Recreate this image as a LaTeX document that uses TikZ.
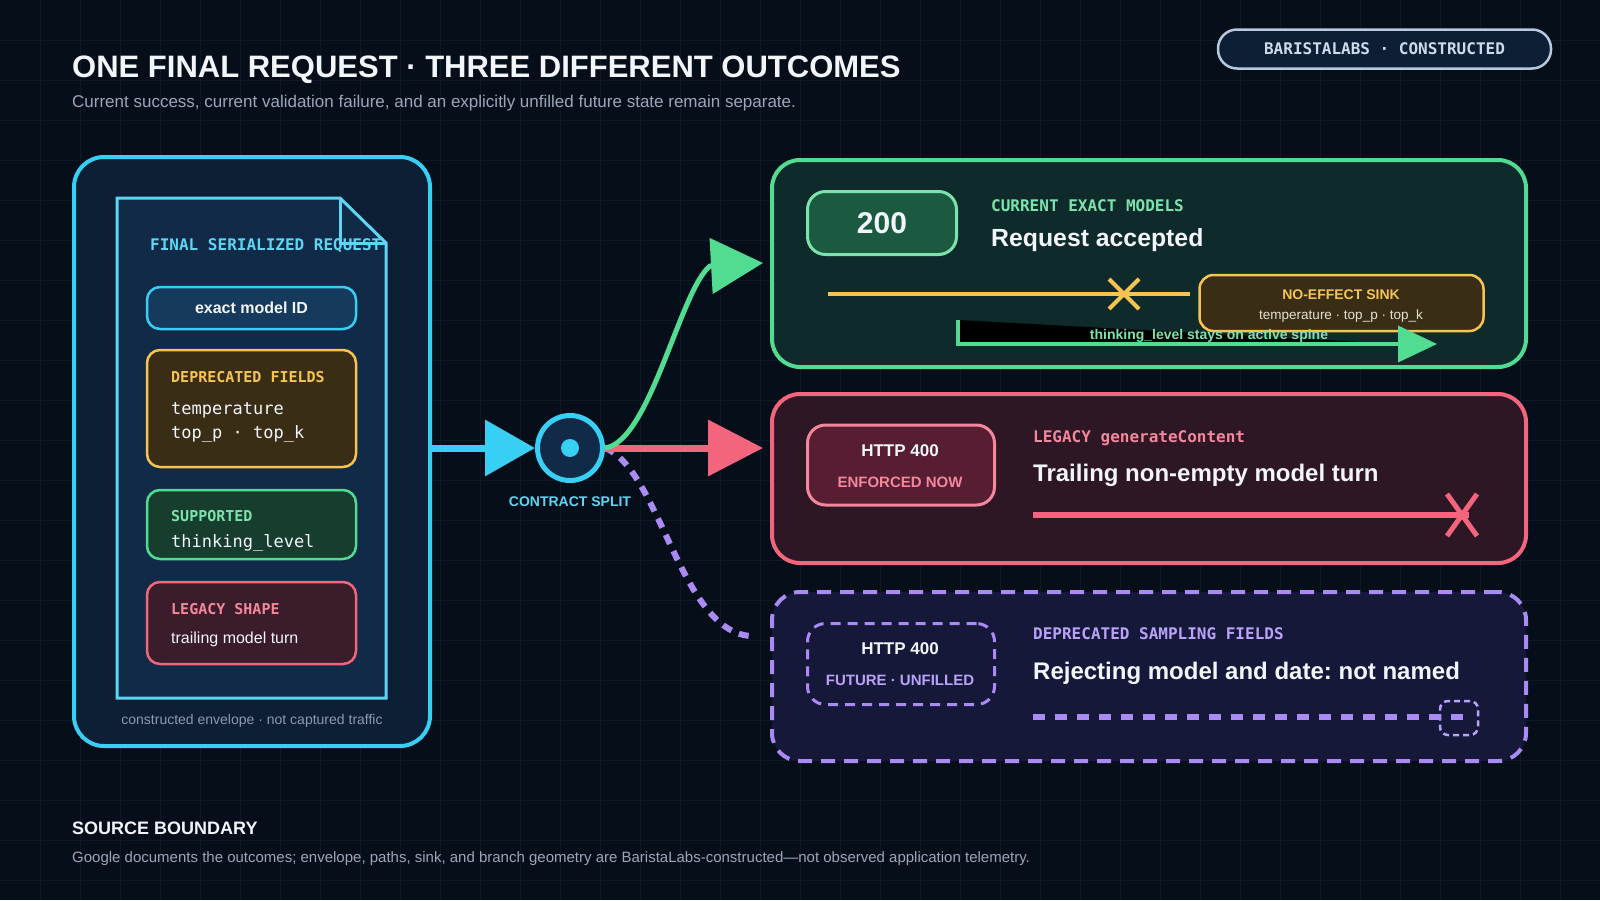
\documentclass[tikz,border=0pt]{standalone}
\usepackage{fontspec}
\setmainfont{Liberation Sans}
\setmonofont{DejaVu Sans Mono}
\usetikzlibrary{arrows.meta,positioning}

\definecolor{bgc}{HTML}{060E1A}
\definecolor{gridc}{HTML}{0D1928}
\definecolor{envf}{HTML}{0D1F35}
\definecolor{docf}{HTML}{102A48}
\definecolor{cyanc}{HTML}{38CFF5}
\definecolor{cyanl}{HTML}{5ED5F3}
\definecolor{idf}{HTML}{163A5E}
\definecolor{ylwc}{HTML}{F5C451}
\definecolor{ylwf}{HTML}{3A2D16}
\definecolor{grnc}{HTML}{52DC91}
\definecolor{grnl}{HTML}{7DE3AC}
\definecolor{grnf}{HTML}{163D2E}
\definecolor{grnp}{HTML}{0F2A2B}
\definecolor{grns}{HTML}{1B5A40}
\definecolor{redc}{HTML}{F2657C}
\definecolor{redl}{HTML}{F3879B}
\definecolor{redf}{HTML}{3A1C2B}
\definecolor{redp}{HTML}{2D1725}
\definecolor{reds}{HTML}{561D33}
\definecolor{purc}{HTML}{A98BF3}
\definecolor{purl}{HTML}{B9A2F7}
\definecolor{purp}{HTML}{16183A}
\definecolor{txtc}{HTML}{F2F5FA}
\definecolor{subc}{HTML}{9AA7BA}
\definecolor{footc}{HTML}{8C9AAE}
\definecolor{badgec}{HTML}{B8C9DD}
\definecolor{badget}{HTML}{CDDBEB}
\definecolor{sinkt}{HTML}{E6E0D0}

\newcommand{\fsz}[1]{\fontsize{#1}{#1}\selectfont}
\frenchspacing

\tikzset{
  panel/.style={
    draw,
    rounded corners=28pt,
    line width=4pt,
    inner sep=0pt
  },
  field/.style={
    draw,
    rounded corners=13pt,
    line width=2.5pt,
    minimum width=209pt,
    inner sep=0pt
  },
  status/.style={
    draw,
    rounded corners=18pt,
    line width=3pt,
    inner sep=0pt
  },
  monolab/.style={
    anchor=base west,
    inner sep=0pt,
    font=\ttfamily\bfseries\fsz{15}
  },
  panellab/.style={
    anchor=base west,
    inner sep=0pt,
    font=\ttfamily\bfseries\fsz{16}
  },
  monoval/.style={
    anchor=base west,
    inner sep=0pt,
    font=\ttfamily\fsz{17},
    text=txtc
  },
  headline/.style={
    anchor=base west,
    inner sep=0pt,
    font=\bfseries\fsz{24},
    text=txtc
  },
  plain/.style={
    anchor=base west,
    inner sep=0pt
  },
  spine/.style={
    line width=7pt
  }
}

\begin{document}
\begin{tikzpicture}[x=1pt,y=-1pt]
        \fill[bgc] (0,0) rectangle (1600,900);
        \useasboundingbox (0,0) rectangle (1600,900);
        \foreach \gx in {40,80,...,1560} \draw[gridc, line width=1pt] (\gx,0) -- (\gx,900);
        \foreach \gy in {40,80,...,880} \draw[gridc, line width=1pt] (0,\gy) -- (1600,\gy);

        % heading
        \node[plain, font=\bfseries\fsz{31}, text=txtc] (title) at (72,77.5) {ONE FINAL REQUEST · THREE DIFFERENT OUTCOMES};
        \node[plain, font=\fsz{17}, text=subc] (subtitle) at (72,107) {Current success, current validation failure, and an explicitly unfilled future state remain separate.};
        \node[draw=badgec, fill=envf, line width=2.5pt, rounded corners=19pt, minimum width=333pt, minimum height=39pt, font=\ttfamily\bfseries\fsz{16}, text=badget] (badge) at (1384.5,49) {BARISTALABS · CONSTRUCTED};

        % envelope
        \node[panel, rounded corners=30pt, draw=cyanc, fill=envf, minimum width=356pt, minimum height=589pt] (env) at (252,451.5) {};
        \draw[line width=3pt, cyanl, fill=docf] (117,198) -- (340,198) -- (386,243) -- (386,698) -- (117,698) -- cycle;
        \draw[line width=3pt, cyanl] (340,198) -- (340,243) -- (386,243);
        \node[monolab, text=cyanl, font=\ttfamily\bfseries\fsz{16}] (doctitle) at (150,250) {FINAL SERIALIZED REQUEST};

        \node[field, draw=cyanc, fill=idf, minimum height=42pt, font=\bfseries\fsz{16}, text=txtc] (modelid) at (251.5,308) {exact model ID};
        \node[field, draw=ylwc, fill=ylwf, minimum height=117pt] (depr) at (251.5,408.5) {};
        \node[monolab, text=ylwc] (deprlab) at (171,382) {DEPRECATED FIELDS};
        \node[monoval] (deprA) at (171,414) {temperature};
        \node[monoval] (deprB) at (171,438) {top\_p · top\_k};
        \node[field, draw=grnc, fill=grnf, minimum height=69pt] (supp) at (251.5,524.5) {};
        \node[monolab, text=grnl] (supplab) at (171,521) {SUPPORTED};
        \node[monoval] (suppA) at (171,547) {thinking\_level};
        \node[field, draw=redc, fill=redf, minimum height=82pt] (legacy) at (251.5,623) {};
        \node[monolab, text=redl] (legacylab) at (171,614) {LEGACY SHAPE};
        \node[plain, font=\fsz{16}, text=txtc] (legacyA) at (171,643) {trailing model turn};
        \node[anchor=base, inner sep=0pt, font=\fsz{14}, text=footc] (envnote) at (252,724) {constructed envelope · not captured traffic};

        % outcome panels
        \node[panel, draw=grnc, fill=grnp, minimum width=754pt, minimum height=207pt] (ok) at (1149,263.5) {};
        \node[panel, draw=redc, fill=redp, minimum width=754pt, minimum height=169pt] (fail) at (1149,478.5) {};
        \node[panel, draw=purc, fill=purp, dash pattern=on 14pt off 9pt, minimum width=754pt, minimum height=169pt] (futr) at (1149,676.5) {};

        % split
        \node[circle, draw=cyanc, fill=docf, line width=5pt, minimum size=65pt, inner sep=0pt] (split) at (570,448) {};
        \node[circle, fill=cyanc, minimum size=18pt, inner sep=0pt] (splitdot) at (split.center) {};
        \node[anchor=base, inner sep=0pt, font=\bfseries\fsz{14}, text=cyanl] (splitlab) at (570,506) {CONTRACT SPLIT};
        \coordinate (gtip) at (763,263);
        \coordinate (pend) at (750,636);
        \draw[spine, cyanc, -{Triangle[length=50pt,width=55pt]}] (env.east |- split) -- (split.west);
        \draw[line width=6pt, purc, dash pattern=on 10pt off 8pt] (split.east) .. controls (660,470) and (680,630) .. (pend);
        \draw[spine, redc, -{Triangle[length=55pt,width=55pt]}] (split.east) -- ([xshift=-7pt]fail.west |- split.east);
        \draw[line width=5pt, grnc, -{Triangle[length=52pt,width=55pt]}] (split.east) .. controls (650,442) and (680,290) .. (710,266) -- (gtip);

        % accepted
        \node[status, draw=grnl, fill=grns, minimum width=149pt, minimum height=63pt, font=\bfseries\fsz{30}, text=txtc] (code) at (882,223) {200};
        \node[panellab, text=grnl] (oklab) at (991,211) {CURRENT EXACT MODELS};
        \node[headline, font=\bfseries\fsz{24.8}] (okhead) at (991,246) {Request accepted};
        \node[status, rounded corners=14pt, line width=2.5pt, draw=ylwc, fill=ylwf, minimum width=284pt, minimum height=56pt] (sink) at (1341.5,303) {};
        \node[anchor=base, inner sep=0pt, font=\bfseries\fsz{14}, text=ylwc] (sinklab) at (1341,299) {NO-EFFECT SINK};
        \node[anchor=base, inner sep=0pt, font=\fsz{13.5}, text=sinkt] (sinkA) at (1341,319) {temperature · top\_p · top\_k};
        \coordinate (ystart) at (828,294);
        \coordinate (ycross) at (1124,294);
        \draw[line width=4.5pt, ylwc] (ystart) -- ([xshift=-8pt]sink.west |- ystart);
        \draw[line width=4pt, ylwc] ([shift={(-15,-15)}]ycross) -- ([shift={(15,15)}]ycross);
        \draw[line width=4pt, ylwc] ([shift={(-15,15)}]ycross) -- ([shift={(15,-15)}]ycross);
        \coordinate (tstart) at (958,320);
        \coordinate (ttip) at (1437,344);
        \draw[line width=4pt, grnc, fill=black, -{Triangle[length=39pt,width=36pt]}] (tstart) -- (tstart |- ttip) -- (ttip);
        \node[anchor=base, inner sep=0pt, font=\bfseries\fsz{14}, text=grnl] (spinelab) at (1209,339.5) {thinking\_level stays on active spine};

        % rejected now
        \node[status, draw=redl, fill=reds, minimum width=187pt, minimum height=80pt] (failcode) at (901,465) {};
        \node[font=\bfseries\fsz{17}, text=txtc] (failhttp) at (900,451) {HTTP 400};
        \node[font=\bfseries\fsz{15}, text=redl] (failnow) at (900,482) {ENFORCED NOW};
        \node[panellab, text=redl] (faillab) at (1033,442) {LEGACY generateContent};
        \node[headline] (failhead) at (1033,481) {Trailing non-empty model turn};
        \coordinate (rstart) at (1033,515);
        \coordinate (rcross) at (1462,515);
        \draw[line width=6pt, redc] (rstart) -- ([xshift=7pt]rcross);
        \draw[line width=5pt, redc] ([shift={(-15,-21)}]rcross) -- ([shift={(15,21)}]rcross);
        \draw[line width=5pt, redc] ([shift={(-15,21)}]rcross) -- ([shift={(15,-21)}]rcross);

        % future
        \node[status, draw=purc, fill=purp, dash pattern=on 10pt off 7pt, minimum width=187pt, minimum height=81pt] (futrcode) at (901,664) {};
        \node[font=\bfseries\fsz{17}, text=txtc] (futrhttp) at (900,649) {HTTP 400};
        \node[font=\bfseries\fsz{15}, text=purl] (futrnow) at (900,680) {FUTURE · UNFILLED};
        \node[panellab, text=purl] (futrlab) at (1033,639) {DEPRECATED SAMPLING FIELDS};
        \node[headline] (futrhead) at (1033,679) {Rejecting model and date: not named};
        \coordinate (pstart) at (1033,717);
        \node[draw=purl, dash pattern=on 6pt off 4pt, line width=2.5pt, rounded corners=8pt, minimum width=38pt, minimum height=34pt, inner sep=0pt] (pslot) at (1459,718) {};
        \draw[line width=6pt, purc, dash pattern=on 12pt off 10pt] (pstart) -- ([xshift=10pt]pslot.center |- pstart);

        % source
        \node[plain, font=\bfseries\fsz{18}, text=txtc] (srchead) at (72,834) {SOURCE BOUNDARY};
        \node[plain, font=\fsz{15}, text=subc] (srcnote) at (72,862) {Google documents the outcomes; envelope, paths, sink, and branch geometry are BaristaLabs-constructed—not observed application telemetry.};
\end{tikzpicture}
\end{document}
